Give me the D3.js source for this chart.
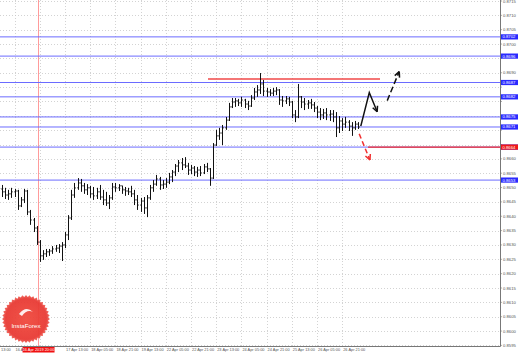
<!DOCTYPE html>
<html><head><meta charset="utf-8">
<script src="https://cdn.jsdelivr.net/npm/d3@7"></script>
<style>html,body{margin:0;padding:0;background:#fff;overflow:hidden}</style>
</head><body><svg id="c" width="518" height="353"></svg>
<script>
// ---- data (2-hour bars, EUR/GBP-like price) ----
const firstOpen = 0.86495;
const highs = [0.86509,0.86499,0.86492,0.86499,0.86495,0.86492,0.86467,0.86495,0.86492,0.86422,
0.86394,0.86366,0.86317,0.86282,0.86286,0.86286,0.86296,0.86300,0.86303,0.86310,
0.86345,0.86404,0.86492,0.86516,0.86533,0.86530,0.86516,0.86512,0.86506,0.86502,
0.86499,0.86509,0.86492,0.86485,0.86474,0.86516,0.86516,0.86512,0.86506,0.86502,
0.86499,0.86506,0.86492,0.86474,0.86464,0.86467,0.86474,0.86509,0.86526,0.86544,
0.86537,0.86526,0.86533,0.86551,0.86561,0.86582,0.86596,0.86603,0.86606,0.86586,
0.86579,0.86575,0.86572,0.86575,0.86582,0.86586,0.86568,0.86655,0.86701,0.86708,
0.86718,0.86746,0.86795,0.86812,0.86812,0.86809,0.86816,0.86809,0.86802,0.86822,
0.86847,0.86857,0.86899,0.86875,0.86847,0.86843,0.86847,0.86850,0.86843,0.86819,
0.86819,0.86816,0.86802,0.86770,0.86861,0.86819,0.86812,0.86805,0.86809,0.86798,
0.86784,0.86777,0.86774,0.86777,0.86770,0.86770,0.86763,0.86749,0.86742,0.86746,
0.86735,0.86728,0.86732,0.86728];
const lows = [0.86467,0.86460,0.86457,0.86464,0.86467,0.86422,0.86432,0.86446,0.86404,0.86370,
0.86345,0.86300,0.86241,0.86248,0.86258,0.86262,0.86269,0.86276,0.86272,0.86244,
0.86289,0.86317,0.86387,0.86464,0.86492,0.86485,0.86478,0.86474,0.86464,0.86457,
0.86460,0.86457,0.86439,0.86436,0.86425,0.86457,0.86485,0.86488,0.86478,0.86471,
0.86474,0.86467,0.86439,0.86422,0.86415,0.86408,0.86397,0.86457,0.86485,0.86506,
0.86492,0.86495,0.86499,0.86512,0.86519,0.86540,0.86554,0.86561,0.86568,0.86544,
0.86547,0.86540,0.86537,0.86540,0.86547,0.86554,0.86506,0.86530,0.86645,0.86666,
0.86648,0.86701,0.86732,0.86777,0.86781,0.86784,0.86781,0.86777,0.86770,0.86781,
0.86805,0.86816,0.86826,0.86819,0.86816,0.86819,0.86819,0.86822,0.86788,0.86781,
0.86791,0.86784,0.86742,0.86728,0.86742,0.86777,0.86770,0.86774,0.86774,0.86763,
0.86742,0.86735,0.86739,0.86735,0.86732,0.86728,0.86676,0.86690,0.86697,0.86708,
0.86697,0.86680,0.86701,0.86704];
const closes = [0.86485,0.86474,0.86478,0.86485,0.86488,0.86436,0.86457,0.86488,0.86415,0.86387,
0.86359,0.86310,0.86262,0.86269,0.86276,0.86279,0.86286,0.86289,0.86296,0.86300,
0.86335,0.86394,0.86474,0.86499,0.86516,0.86506,0.86492,0.86499,0.86478,0.86471,
0.86485,0.86467,0.86457,0.86446,0.86464,0.86502,0.86499,0.86506,0.86492,0.86488,
0.86485,0.86478,0.86457,0.86439,0.86453,0.86429,0.86464,0.86499,0.86512,0.86530,
0.86509,0.86512,0.86519,0.86537,0.86554,0.86575,0.86586,0.86579,0.86575,0.86561,
0.86568,0.86554,0.86561,0.86551,0.86572,0.86565,0.86533,0.86648,0.86680,0.86690,
0.86708,0.86735,0.86781,0.86798,0.86802,0.86795,0.86805,0.86791,0.86784,0.86812,
0.86833,0.86840,0.86861,0.86836,0.86833,0.86829,0.86836,0.86840,0.86805,0.86802,
0.86809,0.86798,0.86753,0.86746,0.86816,0.86798,0.86791,0.86795,0.86788,0.86777,
0.86763,0.86753,0.86760,0.86753,0.86756,0.86746,0.86708,0.86732,0.86721,0.86728,
0.86714,0.86708,0.86721,0.86711];

const priceTicks = [0.8715,0.8710,0.8705,0.8700,0.8695,0.8690,0.8685,0.8680,0.8675,0.8670,
0.8665,0.8660,0.8655,0.8650,0.8645,0.8640,0.8635,0.8630,0.8625,0.8620,0.8615,0.8610,0.8605,0.8600,0.8595];
const timeTickIdx = [-2,4,12,20,28,36,44,52,60,68,76,84,92,100,108];
const timeTickLabels = ["13:00","16 A","","17 Apr 13:00","18 Apr 05:00",
"18 Apr 21:00","19 Apr 13:00","22 Apr 05:00","22 Apr 21:00","23 Apr 13:00","24 Apr 05:00",
"24 Apr 21:00","25 Apr 13:00","26 Apr 05:00","26 Apr 21:00"];
const blueLevels = [0.87025,0.86958,0.86866,0.86816,0.86746,0.86711,0.86641,0.86526];
const redResistance = {price:0.86878, fromIdx:65.4, toIdx:120};
const redSupport = {price:0.86641, fromIdx:116.2};
const markerIdx = 11.6;
const markerLabel = "16 Apr 2019 20:00";
const forecastUp1 = [[113.9,0.86714],[116.6,0.86831],[119.1,0.86764]];
const forecastUp2 = [[122.3,0.86803],[126.1,0.86904]];
const forecastDown = [[113.4,0.86687],[116.8,0.86596]];

// ---- layout ----
const svg = d3.select("#c");
const plotR = 500, plotB = 346;
const x = d3.scaleLinear().domain([0, 113]).range([2, 357.95]);
const y = d3.scaleLinear().domain([0.8595, 0.8715]).range([345.4, 1]);
const font = "Liberation Sans, Arial, sans-serif";

svg.append("rect").attr("width",518).attr("height",353).attr("fill","#fff");
svg.append("clipPath").attr("id","pc").append("rect").attr("x",0).attr("y",0).attr("width",plotR).attr("height",plotB);
const plot = svg.append("g").attr("clip-path","url(#pc)");

// grid
plot.selectAll(".hg").data(priceTicks).join("line")
  .attr("x1",0).attr("x2",plotR).attr("y1",d=>Math.round(y(d))+0.5).attr("y2",d=>Math.round(y(d))+0.5)
  .attr("stroke","#c8c8c8").attr("stroke-width",0.8).attr("stroke-dasharray","1,2");
plot.selectAll(".vg").data(timeTickIdx).join("line")
  .attr("x1",d=>Math.round(x(d))+0.5).attr("x2",d=>Math.round(x(d))+0.5).attr("y1",0).attr("y2",plotB)
  .attr("stroke","#c8c8c8").attr("stroke-width",0.8).attr("stroke-dasharray","1,2");

// marker vertical line
plot.append("line").attr("x1",x(markerIdx)).attr("x2",x(markerIdx)).attr("y1",0).attr("y2",plotB)
  .attr("stroke","#ff7070").attr("stroke-width",0.9).attr("opacity",0.8);

// blue levels
plot.selectAll(".bl").data(blueLevels).join("line")
  .attr("x1",0).attr("x2",plotR).attr("y1",d=>y(d)).attr("y2",d=>y(d))
  .attr("stroke","#6b6bff").attr("stroke-width",1);

// red lines
plot.append("line").attr("x1",x(redResistance.fromIdx)).attr("x2",x(redResistance.toIdx))
  .attr("y1",y(redResistance.price)).attr("y2",y(redResistance.price))
  .attr("stroke","#f04848").attr("stroke-width",1.6);
plot.append("line").attr("x1",x(redSupport.fromIdx)).attr("x2",plotR)
  .attr("y1",y(redSupport.price)).attr("y2",y(redSupport.price))
  .attr("stroke","#f02a2a").attr("stroke-width",1.4);

// bars
const bars = closes.map((c,i)=>({i, o: i===0?firstOpen:closes[i-1], h:highs[i], l:lows[i], c}));
const bg = plot.append("g").attr("stroke","#111").attr("stroke-width",1);
bars.forEach(b=>{
  const cx = Math.round(x(b.i))+0.5;
  bg.append("line").attr("x1",cx).attr("x2",cx).attr("y1",y(b.h)).attr("y2",y(b.l));
  bg.append("line").attr("x1",cx-1.2).attr("x2",cx).attr("y1",y(b.o)).attr("y2",y(b.o));
  bg.append("line").attr("x1",cx).attr("x2",cx+1.2).attr("y1",y(b.c)).attr("y2",y(b.c));
});

// forecast arrows
function arrow(pts, color, dash){
  const p = pts.map(d=>[x(d[0]), y(d[1])]);
  plot.append("path").attr("d", d3.line()(p)).attr("fill","none").attr("stroke",color)
    .attr("stroke-width",1.5).attr("stroke-dasharray",dash||null);
  const a = p[p.length-1], b = p[p.length-2];
  const ang = Math.atan2(a[1]-b[1], a[0]-b[0]);
  [0.45,-0.45].forEach(da=>{
    plot.append("line").attr("x1",a[0]).attr("y1",a[1])
      .attr("x2",a[0]-6*Math.cos(ang+da)).attr("y2",a[1]-6*Math.sin(ang+da))
      .attr("stroke",color).attr("stroke-width",1.5);
  });
}
arrow(forecastUp1,"#111");
arrow(forecastUp2,"#111","6,3");
arrow(forecastDown,"#f03030","5,3");

// axes lines
svg.append("line").attr("x1",plotR+0.5).attr("x2",plotR+0.5).attr("y1",0).attr("y2",plotB+0.5).attr("stroke","#777").attr("stroke-width",1);
svg.append("line").attr("x1",0).attr("x2",plotR+0.5).attr("y1",plotB+0.5).attr("y2",plotB+0.5).attr("stroke","#777").attr("stroke-width",1);

// price labels (skip those hidden behind a level label)
const allLevels = blueLevels.concat([redSupport.price]);
const visibleTicks = priceTicks.filter(t=>allLevels.every(l=>Math.abs(y(t)-y(l))>=4.6));
svg.selectAll(".pl").data(visibleTicks).join("text")
  .attr("x",plotR+3).attr("y",d=>y(d)+1.5).text(d=>d.toFixed(4))
  .attr("font-family",font).attr("font-size",4.2).attr("fill","#555");
svg.selectAll(".pt").data(priceTicks).join("line")
  .attr("x1",plotR).attr("x2",plotR+2).attr("y1",d=>y(d)).attr("y2",d=>y(d)).attr("stroke","#777").attr("stroke-width",0.6);

// level labels
const ll = svg.selectAll(".ll").data(blueLevels).join("g");
ll.append("rect").attr("x",plotR+1).attr("y",d=>y(d)-2.6).attr("width",17).attr("height",5.2).attr("fill","#2a2aff");
ll.append("text").attr("x",plotR+2.5).attr("y",d=>y(d)+1.5).text(d=>d.toFixed(4))
  .attr("font-family",font).attr("font-size",4.2).attr("fill","#fff");
svg.append("rect").attr("x",plotR+1).attr("y",y(redSupport.price)-2.6).attr("width",17).attr("height",5.2).attr("fill","#f01818");
svg.append("text").attr("x",plotR+2.5).attr("y",y(redSupport.price)+1.5).text(redSupport.price.toFixed(4))
  .attr("font-family",font).attr("font-size",4.2).attr("fill","#fff");

// time labels
svg.selectAll(".tl").data(timeTickIdx).join("text")
  .attr("x",d=>Math.max(1, x(d)+1)).attr("y",351).text((d,i)=>timeTickLabels[i])
  .attr("font-family",font).attr("font-size",3.9).attr("fill","#555");
const mx = x(markerIdx);
svg.append("rect").attr("x",mx-16).attr("y",347).attr("width",32).attr("height",5.5).attr("fill","#f01010");
svg.append("text").attr("x",mx).attr("y",351.2).attr("text-anchor","middle").text(markerLabel)
  .attr("font-family",font).attr("font-size",3.9).attr("fill","#fff");

// InstaForex badge
const cx0 = 26, cy0 = 319, nP = 40;
const star = d3.range(nP*2).map(k=>{
  const r = k%2===0 ? 24 : 22;
  const t = k*Math.PI/nP;
  return [cx0 + r*Math.cos(t), cy0 + r*Math.sin(t)];
});
const grad = svg.append("defs").append("radialGradient").attr("id","bg1");
grad.append("stop").attr("offset","0%").attr("stop-color","#f04a3e");
grad.append("stop").attr("offset","85%").attr("stop-color","#e83a34");
grad.append("stop").attr("offset","100%").attr("stop-color","#f06a60");
svg.append("path").attr("d","M"+star.join("L")+"Z").attr("fill","url(#bg1)").attr("opacity",0.95);
svg.append("path").attr("d","M19,314 Q26,305 33,312 Q27,309 22,316 Z").attr("fill","#fff").attr("opacity",0.9);
svg.append("text").attr("x",cx0).attr("y",cy0+9).attr("text-anchor","middle").text("InstaForex")
  .attr("font-family",font).attr("font-size",6.2).attr("fill","#fff");
</script></body></html>
